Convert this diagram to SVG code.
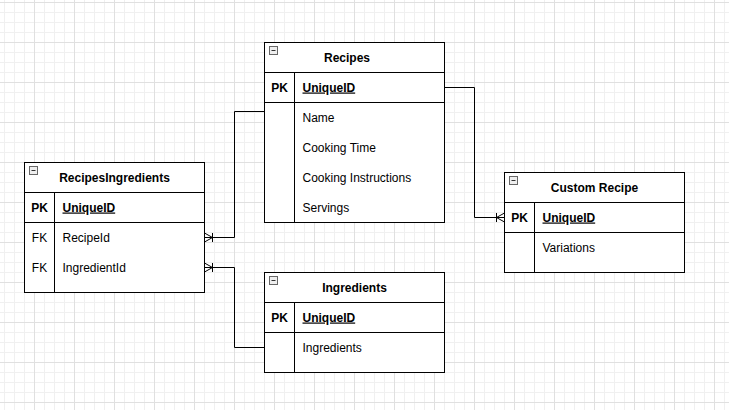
<svg xmlns="http://www.w3.org/2000/svg" width="729" height="410" viewBox="0 0 729 410">
  <defs>
    <pattern id="grid" patternUnits="userSpaceOnUse" x="34" y="2" width="40" height="40">
      <rect width="40" height="40" fill="#ffffff"/>
      <path d="M10.5 0V40M20.5 0V40M30.5 0V40M0 10.5H40M0 20.5H40M0 30.5H40" stroke="#f0f0f0" stroke-width="1" fill="none"/>
      <path d="M0.5 0V40M0 0.5H40" stroke="#e0e0e0" stroke-width="1" fill="none"/>
    </pattern>
    <marker id="erMany" markerUnits="userSpaceOnUse" orient="auto" refX="0" refY="0" markerWidth="20" markerHeight="20" overflow="visible">
      <path d="M-8,-4.5V4.5M0,-4.5L-8,0L0,4.5" fill="none" stroke="#000000" stroke-width="1"/>
    </marker>
    <style>
      .box { fill: #ffffff; stroke: #000000; stroke-width: 1; }
      .ln { fill: none; stroke: #000000; stroke-width: 1; }
      .conn { fill: none; stroke: #000000; stroke-width: 1; marker-end: url(#erMany); }
      .conn0 { fill: none; stroke: #000000; stroke-width: 1; }
      .title { font-family: "Liberation Sans", Arial, Helvetica, sans-serif; font-size: 12px; font-weight: bold; text-anchor: middle; fill: #000000; }
      .key { font-family: "Liberation Sans", Arial, Helvetica, sans-serif; font-size: 12px; font-weight: bold; text-anchor: middle; fill: #000000; }
      .fk { font-family: "Liberation Sans", Arial, Helvetica, sans-serif; font-size: 12px; text-anchor: middle; fill: #000000; }
      .pkf { font-family: "Liberation Sans", Arial, Helvetica, sans-serif; font-size: 12px; font-weight: bold; text-decoration: underline; fill: #000000; }
      .fld { font-family: "Liberation Sans", Arial, Helvetica, sans-serif; font-size: 12px; fill: #000000; }
      .icon { fill: #eeeeee; stroke: #666666; stroke-width: 1; }
      .iconm { stroke: #333333; stroke-width: 1; fill: none; }
    </style>
  </defs>
  <rect x="0" y="0" width="729" height="410" fill="url(#grid)"/>

  <g id="connectors" transform="translate(0.5,0.5)">
    <path class="conn" d="M444 87H474V217H504"/>
    <path class="conn" d="M264 111H234V237H204"/>
    <path class="conn" d="M264 347H234V267H204"/>
  </g>

  <g id="recipes" transform="translate(0.5,0.5)">
    <rect class="box" x="264" y="42" width="180" height="180"/>
    <path class="ln" d="M264 72H444M264 102H444M294 72V222"/>
    <rect class="icon" x="269" y="46" width="8" height="8"/>
    <path class="iconm" d="M271 50H275"/>
    <text class="title" x="346.5" y="61">Recipes</text>
    <text class="key" x="279" y="91">PK</text>
    <text class="pkf" x="302" y="91">UniqueID</text>
    <text class="fld" x="302" y="121">Name</text>
    <text class="fld" x="302" y="151">Cooking Time</text>
    <text class="fld" x="302" y="181">Cooking Instructions</text>
    <text class="fld" x="302" y="211">Servings</text>
  </g>

  <g id="recipesingredients" transform="translate(0.5,0.5)">
    <rect class="box" x="24" y="162" width="180" height="130"/>
    <path class="ln" d="M24 192H204M24 222H204M54 192V292"/>
    <rect class="icon" x="29" y="166" width="8" height="8"/>
    <path class="iconm" d="M31 170H35"/>
    <text class="title" x="114" y="181">RecipesIngredients</text>
    <text class="key" x="39" y="211">PK</text>
    <text class="pkf" x="62" y="211">UniqueID</text>
    <text class="fk" x="39" y="241">FK</text>
    <text class="fld" x="62" y="241">RecipeId</text>
    <text class="fk" x="39" y="271">FK</text>
    <text class="fld" x="62" y="271">IngredientId</text>
  </g>

  <g id="ingredients" transform="translate(0.5,0.5)">
    <rect class="box" x="264" y="272" width="180" height="100"/>
    <path class="ln" d="M264 302H444M264 332H444M294 302V372"/>
    <rect class="icon" x="269" y="276" width="8" height="8"/>
    <path class="iconm" d="M271 280H275"/>
    <text class="title" x="354" y="291">Ingredients</text>
    <text class="key" x="279" y="321">PK</text>
    <text class="pkf" x="302" y="321">UniqueID</text>
    <text class="fld" x="302" y="351">Ingredients</text>
  </g>

  <g id="customrecipe" transform="translate(0.5,0.5)">
    <rect class="box" x="504" y="172" width="180" height="100"/>
    <path class="ln" d="M504 202H684M504 232H684M534 202V272"/>
    <rect class="icon" x="509" y="176" width="8" height="8"/>
    <path class="iconm" d="M511 180H515"/>
    <text class="title" x="594" y="191">Custom Recipe</text>
    <text class="key" x="519" y="221">PK</text>
    <text class="pkf" x="542" y="221">UniqueID</text>
    <text class="fld" x="542" y="251">Variations</text>
  </g>
</svg>
